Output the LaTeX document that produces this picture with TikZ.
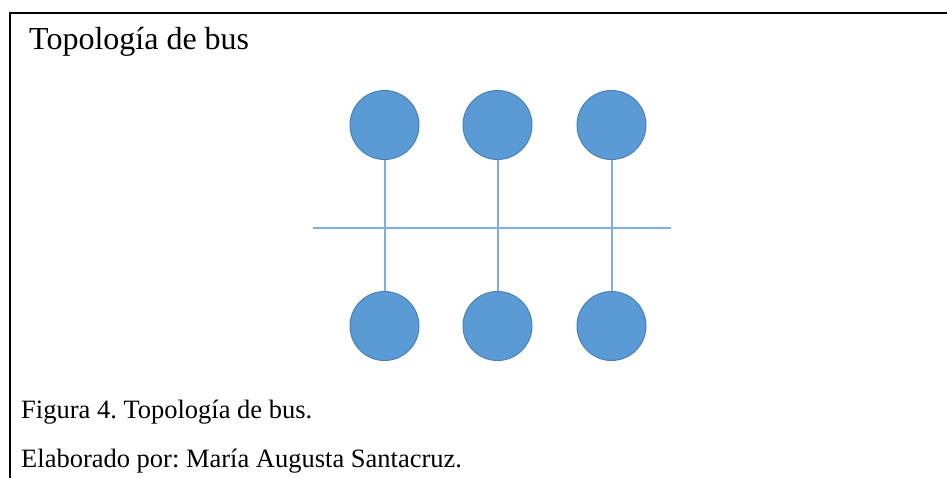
\documentclass[tikz,border=0pt]{standalone}
\usepackage{fontspec}
\setmainfont{Liberation Serif}
\frenchspacing
\begin{document}
\begin{tikzpicture}[x=1pt,y=-1pt,
  station/.style={circle,draw=stationedge,line width=1pt,fill=stationfill,minimum size=69pt,inner sep=0pt},
  wire/.style={draw=wireblue,line width=2pt},
  frameline/.style={line width=2.2pt,black},
  label/.style={anchor=base west,inner sep=0pt,font=\fontsize{#1}{#1}\selectfont}]
\definecolor{stationfill}{HTML}{5B9BD5}
\definecolor{stationedge}{HTML}{4A80B8}
\definecolor{wireblue}{HTML}{7EAEE2}
\useasboundingbox (0,0) rectangle (947,478);
% open frame: top and left rules only
\coordinate (fl) at (10,478);
\coordinate (fc) at (10,13);
\coordinate (fr) at (947,13);
\draw[frameline] (fl) -- (fc) -- (fr);
% title and captions
\node[label=32] (title) at (29,50) {Topología de bus};
\node[label=26.5] (cap1) at (21,418) {Figura 4. Topología de bus.};
\node[label=26.5] (cap2) at (21,467) {Elaborado por: María Augusta Santacruz.};
% bus
\coordinate (busl) at (313,228);
\coordinate (busr) at (671,228);
\draw[wire] (busl) -- (busr);
% stations
\foreach \i/\x in {1/384.5,2/497.5,3/611.5}{
  \node[station] (t\i) at (\x,125) {};
  \node[station] (b\i) at (\x,326) {};
  \draw[wire] (t\i) -- (b\i);
}
\end{tikzpicture}
\end{document}
